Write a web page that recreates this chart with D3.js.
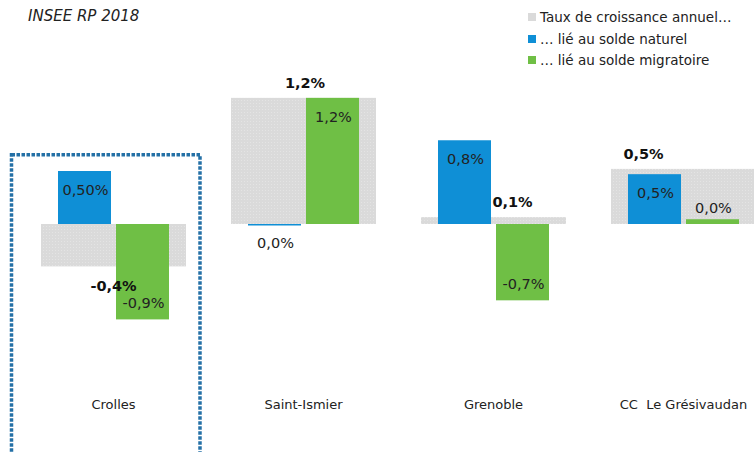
<!DOCTYPE html>
<html><head><meta charset="utf-8">
<script src="https://cdn.jsdelivr.net/npm/d3@7/dist/d3.min.js"></script>
<style>body{margin:0;background:#fff}svg{display:block}</style>
</head><body><div id="chart"></div>
<script>
const categories = ["Crolles", "Saint-Ismier", "Grenoble", "CC  Le Grésivaudan"];
const seriesNames = ["Taux de croissance annuel…", "… lié au solde naturel", "… lié au solde migratoire"];
const tauxValues = [-0.40, 1.19, 0.065, 0.52];
const naturelValues = [0.50, -0.004, 0.79, 0.47];
const migratoireValues = [-0.90, 1.19, -0.72, 0.045];
const tauxLabels = ["-0,4%", "1,2%", "0,1%", "0,5%"];
const naturelLabels = ["0,50%", "0,0%", "0,8%", "0,5%"];
const migratoireLabels = ["-0,9%", "1,2%", "-0,7%", "0,0%"];
const colors = ["#dadada", "#0f8fd6", "#6fbf45"];

const W = 754, H = 452;
const font = "'DejaVu Sans', sans-serif";
const svg = d3.select("#chart").append("svg").attr("width", W).attr("height", H);

// stippled pattern for the grey bars
const defs = svg.append("defs");
const pat = defs.append("pattern").attr("id", "stip").attr("width", 3).attr("height", 3).attr("patternUnits", "userSpaceOnUse");
pat.append("rect").attr("width", 3).attr("height", 3).attr("fill", colors[0]);
pat.append("rect").attr("x", 1).attr("y", 1).attr("width", 1).attr("height", 1).attr("fill", "#e4e4e4");

const x = d3.scaleBand().domain(categories).range([18.5, 778.5]).padding(0);
const inner = d3.scaleBand().domain(["n", "m"]).range([-55.5, 55.5]).paddingInner(0.0862).paddingOuter(0);
const y = d3.scaleLinear().domain([-1.2, 1.2]).range([224 + 127.2, 224 - 127.2]);
const center = c => x(c) + x.bandwidth() / 2;
const greyW = 145;

// title
svg.append("text").attr("x", 28).attr("y", 21).attr("font-family", font).attr("font-style", "italic")
  .attr("font-size", 15).attr("fill", "#222").text("INSEE RP 2018");

// grey total bars
svg.append("g").selectAll("rect").data(categories).join("rect")
  .attr("x", c => center(c) - greyW / 2).attr("width", greyW)
  .attr("y", (c, i) => y(Math.max(0, tauxValues[i])))
  .attr("height", (c, i) => Math.abs(y(tauxValues[i]) - y(0)))
  .attr("fill", "url(#stip)");

// blue & green bars
const subSeries = [
  {key: "n", values: naturelValues, labels: naturelLabels, color: colors[1]},
  {key: "m", values: migratoireValues, labels: migratoireLabels, color: colors[2]}
];
subSeries.forEach(s => {
  svg.append("g").selectAll("rect").data(categories).join("rect")
    .attr("x", c => center(c) + inner(s.key)).attr("width", inner.bandwidth())
    .attr("y", (c, i) => y(Math.max(0, s.values[i])))
    .attr("height", (c, i) => Math.max(1.5, Math.abs(y(s.values[i]) - y(0))))
    .attr("fill", s.color);
});

// labels for blue & green
subSeries.forEach(s => {
  svg.append("g").selectAll("text").data(categories).join("text")
    .attr("x", c => center(c) + inner(s.key) + inner.bandwidth() / 2 + 1)
    .attr("y", (c, i) => {
      const v = s.values[i], h = Math.abs(y(v) - y(0));
      if (h > 25) return v > 0 ? y(v) + 19 + 5 : y(v) - 16 + 5;
      return v >= 0 ? y(0) - 16 + 5 : y(0) + 19 + 5;
    })
    .attr("text-anchor", "middle").attr("font-family", font).attr("font-size", 14.5)
    .attr("fill", "#222").text((c, i) => s.labels[i]);
});

// labels for grey totals (bold, outside end)
const greyShift = [0, 1.5, 19, -40];
svg.append("g").selectAll("text").data(categories).join("text")
  .attr("x", (c, i) => center(c) + greyShift[i])
  .attr("y", (c, i) => tauxValues[i] >= 0 ? y(tauxValues[i]) - 15 + 5 : y(tauxValues[i]) + 20 + 5)
  .attr("text-anchor", "middle").attr("font-family", font).attr("font-size", 14.5).attr("font-weight", "bold")
  .attr("fill", "#111").text((c, i) => tauxLabels[i]);

// category axis labels
svg.append("g").selectAll("text").data(categories).join("text")
  .attr("x", c => center(c)).attr("y", 409)
  .attr("text-anchor", "middle").attr("font-family", font).attr("font-size", 13)
  .attr("fill", "#222").attr("xml:space", "preserve").style("white-space", "pre").text(c => c);

// dotted highlight frame around Crolles
svg.append("rect").attr("x", 11.5).attr("y", 154.7).attr("width", 188.5).attr("height", 400)
  .attr("fill", "none").attr("stroke", "#2470a6").attr("stroke-width", 3.5).attr("stroke-dasharray", "3.5,1.5");

// legend
const lg = svg.append("g");
seriesNames.forEach((n, i) => {
  const cy = [17, 39, 60][i];
  lg.append("rect").attr("x", 528).attr("y", cy - 4).attr("width", 8).attr("height", 8).attr("fill", colors[i]);
  lg.append("text").attr("x", 540).attr("y", cy + 5).attr("font-family", font).attr("font-size", 13.5)
    .attr("fill", "#222").text(n);
});
</script></body></html>
